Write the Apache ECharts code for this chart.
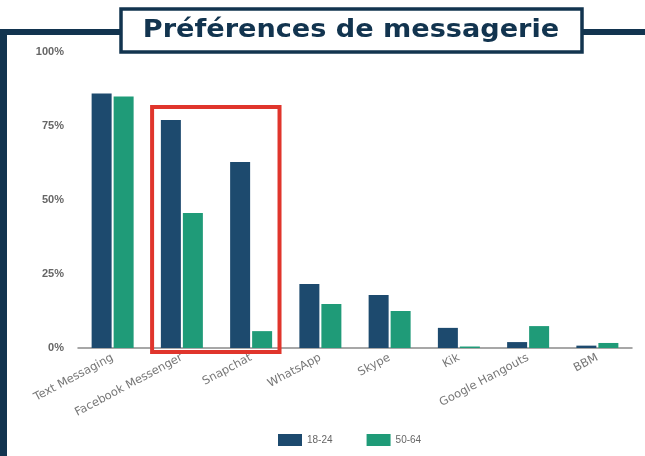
<!DOCTYPE html>
<html>
<head>
<meta charset="utf-8">
<script src="https://cdn.jsdelivr.net/npm/echarts@6/dist/echarts.min.js"></script>
<style>
  html, body { margin: 0; padding: 0; background: #fff; }
  #chart { width: 645px; height: 456px; }
</style>
</head>
<body>
<div id="chart"></div>
<script>
const categories = ["Text Messaging", "Facebook Messenger", "Snapchat", "WhatsApp", "Skype", "Kik", "Google Hangouts", "BBM"];
const young = [86, 77, 62.8, 21.6, 17.9, 6.8, 2, 0.8];   // 18-24
const older = [85, 45.6, 5.7, 14.9, 12.5, 0.5, 7.4, 1.7]; // 50-64
const yTicks = [0, 25, 50, 75, 100];
const highlight = ["Facebook Messenger", "Snapchat"];
const highlightTop = 81.4;

const navy = "#12344f";
const chart = echarts.init(document.getElementById("chart"));

const option = {
  backgroundColor: "#fff",
  animation: false,
  grid: { left: 78, right: 13, top: 52, bottom: 108 },
  legend: {
    left: 273,
    top: 429,
    itemWidth: 24,
    itemHeight: 12,
    itemGap: 34,
    icon: "rect",
    textStyle: { color: "#666", fontSize: 10, fontFamily: "Liberation Sans" },
    data: ["18-24", "50-64"],
  },
  xAxis: {
    type: "category",
    data: categories,
    axisTick: { show: false },
    axisLine: { lineStyle: { color: "#8a8a8a", width: 1.5 } },
    axisLabel: {
      rotate: 28,
      interval: 0,
      margin: 9,
      color: "#777",
      fontSize: 11.5,
      fontFamily: "DejaVu Sans",
    },
  },
  yAxis: {
    type: "value",
    min: yTicks[0],
    max: yTicks[yTicks.length - 1],
    interval: 25,
    splitLine: { show: false },
    axisLine: { show: false },
    axisTick: { show: false },
    axisLabel: {
      margin: 14,
      color: "#666",
      fontSize: 11,
      fontWeight: "bold",
      fontFamily: "Liberation Sans",
      formatter: "{value}%",
    },
  },
  series: [
    {
      name: "18-24",
      type: "bar",
      barWidth: 20,
      barGap: "10%",
      itemStyle: { color: "#1d4a6e" },
      data: young,
    },
    {
      name: "50-64",
      type: "bar",
      barWidth: 20,
      itemStyle: { color: "#1f9b78" },
      data: older,
    },
  ],
};

chart.setOption(option);

// decorative frame + title box, and the red box around the highlighted categories
const i1 = categories.indexOf(highlight[0]);
const i2 = categories.indexOf(highlight[1]);
const c1 = chart.convertToPixel({ xAxisIndex: 0 }, i1);
const c2 = chart.convertToPixel({ xAxisIndex: 0 }, i2);
const bw = chart.convertToPixel({ xAxisIndex: 0 }, 1) - chart.convertToPixel({ xAxisIndex: 0 }, 0);
const yTop = chart.convertToPixel({ yAxisIndex: 0 }, highlightTop);
const yBase = chart.convertToPixel({ yAxisIndex: 0 }, 0);

chart.setOption({
  graphic: [
    { type: "rect", shape: { x: 0, y: 29, width: 7, height: 430 }, style: { fill: navy } },
    { type: "rect", shape: { x: 0, y: 29, width: 122, height: 6 }, style: { fill: navy } },
    { type: "rect", shape: { x: 580, y: 29, width: 70, height: 6 }, style: { fill: navy } },
    {
      type: "rect",
      shape: { x: 121, y: 9, width: 461, height: 43 },
      style: { fill: "#fff", stroke: navy, lineWidth: 3.5 },
    },
    {
      type: "text",
      x: 351,
      y: 31,
      scaleX: 1.13,
      style: {
        text: "Préférences de messagerie",
        fill: navy,
        font: "bold 24px 'DejaVu Sans'",
        align: "center",
        verticalAlign: "middle",
      },
    },
    {
      type: "rect",
      z: 10,
      shape: {
        x: c1 - 0.43 * bw,
        y: yTop,
        width: (c2 + 0.41 * bw) - (c1 - 0.43 * bw),
        height: yBase + 4 - yTop,
      },
      style: { fill: "none", stroke: "#e0352c", lineWidth: 4 },
    },
  ],
});
</script>
</body>
</html>
